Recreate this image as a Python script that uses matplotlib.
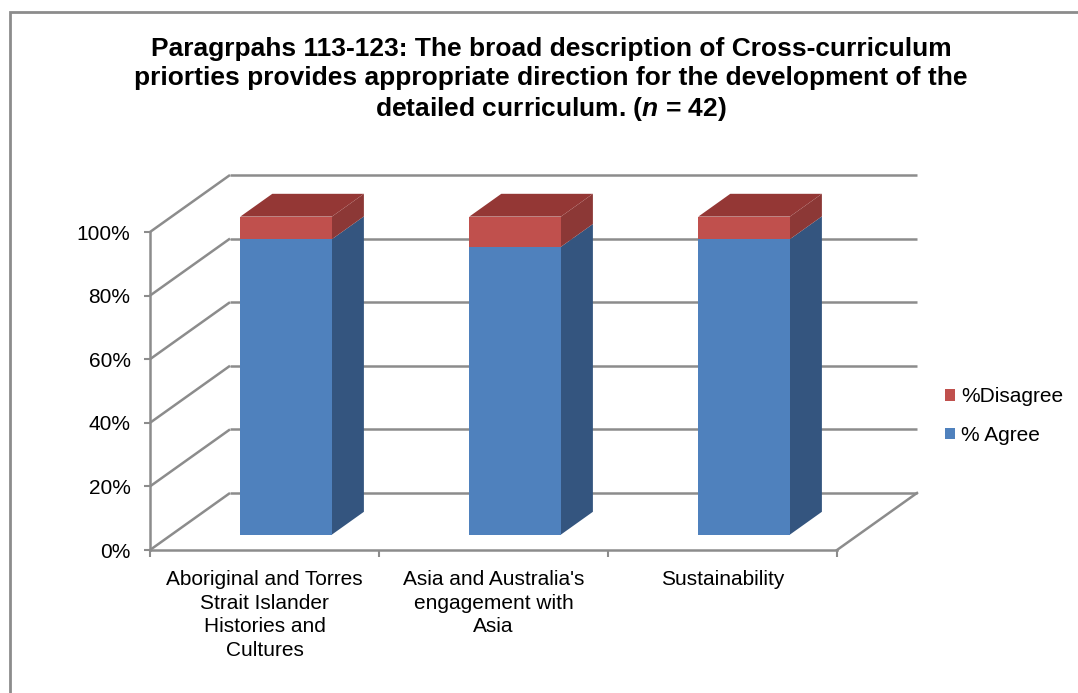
import matplotlib
matplotlib.use("Agg")
import matplotlib.pyplot as plt
from matplotlib.patches import Polygon, Rectangle, Patch

plt.rcParams['font.family'] = ['Liberation Sans', 'DejaVu Sans']
plt.rcParams['mathtext.fontset'] = 'custom'
plt.rcParams['mathtext.bfit'] = 'Liberation Sans:bold:italic'
plt.rcParams['mathtext.it'] = 'Liberation Sans:italic'
plt.rcParams['mathtext.bf'] = 'Liberation Sans:bold'
plt.rcParams['mathtext.rm'] = 'Liberation Sans'

# ---- data ----
categories = ["Aboriginal and Torres\nStrait Islander\nHistories and\nCultures",
              "Asia and Australia's\nengagement with\nAsia",
              "Sustainability"]
agree = [92.9, 90.5, 92.9]
disagree = [7.1, 9.5, 7.1]
series_names = ["% Agree", "%Disagree"]
yticks = [0, 20, 40, 60, 80, 100]
ytick_labels = ["0%", "20%", "40%", "60%", "80%", "100%"]
title = ("Paragrpahs 113-123: The broad description of Cross-curriculum\n"
         "priorties provides appropriate direction for the development of the\n"
         "detailed curriculum. ($\\mathbfit{n}$ = 42)")

# ---- style / geometry ----
W, H = 1078, 693
fig = plt.figure(figsize=(W / 100, H / 100), dpi=100)

PX0, PXU = 150.0, 229.0   # pixel x of data x=-0.5 and px per category
PY0, PYU = 550.0, 3.18    # pixel y of 0% and px per percent
xlim = (-0.6, 2.95)
ylim = (-3, 121)
lpx = PX0 + (xlim[0] + 0.5) * PXU
rpx = PX0 + (xlim[1] + 0.5) * PXU
bpx = PY0 - ylim[0] * PYU
tpx = PY0 - ylim[1] * PYU
ax = fig.add_axes([lpx / W, (H - bpx) / H, (rpx - lpx) / W, (bpx - tpx) / H])
ax.set_xlim(*xlim)
ax.set_ylim(*ylim)

DX = 80.0 / PXU
DY = 57.0 / PYU
grid_c = '#8c8c8c'
glw = 1.8
x0, x1 = -0.5, len(categories) - 0.5
FS = 15

# walls / floor
for t in yticks:
    ax.plot([x0, x0 + DX], [t, t + DY], color=grid_c, lw=glw, zorder=1,
            solid_capstyle='butt')
    ax.plot([x0 + DX, x1 + DX], [t + DY, t + DY], color=grid_c, lw=glw,
            zorder=1, solid_capstyle='butt')
ax.plot([x1, x1 + DX], [0, DY], color=grid_c, lw=glw, zorder=1)

# spines and ticks
for s in ['top', 'right']:
    ax.spines[s].set_visible(False)
ax.spines['left'].set_position(('data', x0))
ax.spines['left'].set_bounds(0, 100)
ax.spines['bottom'].set_position(('data', 0))
ax.spines['bottom'].set_bounds(x0, x1)
for s in ['left', 'bottom']:
    ax.spines[s].set_color(grid_c)
    ax.spines[s].set_linewidth(glw)
    ax.spines[s].set_zorder(2)

ax.set_yticks(yticks)
ax.set_yticklabels(ytick_labels, fontsize=FS)
ax.tick_params(axis='y', direction='out', length=4, width=1.5, color=grid_c, pad=10)
ax.set_xticks(range(len(categories)))
ax.set_xticklabels(categories, fontsize=FS, linespacing=1.3)
ax.set_xticks([x0 + i for i in range(len(categories) + 1)], minor=True)
ax.tick_params(axis='x', which='major', length=0, pad=14.5)
ax.tick_params(axis='x', which='minor', direction='out', length=5, width=1.5, color=grid_c)

# bars (oblique 3D)
hw = 0.2
zf, zb = 0.27, 0.67
front_cols = ['#4F81BD', '#C0504D']
side_cols = ['#34557F', '#8C3836']
top_col = '#943735'
for i in range(len(categories)):
    segs = [(0, agree[i]), (agree[i], agree[i] + disagree[i])]
    for k, (y0, y1) in enumerate(segs):
        fl = i - hw + zf * DX
        fr = i + hw + zf * DX
        br = i + hw + zb * DX
        bl = i - hw + zb * DX
        ax.add_patch(Polygon([(fr, y0 + zf * DY), (br, y0 + zb * DY),
                              (br, y1 + zb * DY), (fr, y1 + zf * DY)],
                             closed=True, fc=side_cols[k], ec='none', zorder=3))
        ax.add_patch(Polygon([(fl, y0 + zf * DY), (fr, y0 + zf * DY),
                              (fr, y1 + zf * DY), (fl, y1 + zf * DY)],
                             closed=True, fc=front_cols[k], ec='none', zorder=4))
        if k == len(segs) - 1:
            ax.add_patch(Polygon([(fl, y1 + zf * DY), (fr, y1 + zf * DY),
                                  (br, y1 + zb * DY), (bl, y1 + zb * DY)],
                                 closed=True, fc=top_col, ec='none', zorder=4))

# legend
handles = [Patch(fc=front_cols[1], ec='none'), Patch(fc=front_cols[0], ec='none')]
fig.legend(handles, [series_names[1], series_names[0]], loc='center left',
           bbox_to_anchor=(926 / W, 1 - 416 / H), frameon=False, fontsize=FS,
           handlelength=0.5, handleheight=0.5, handletextpad=0.3, labelspacing=0.95)

# title
fig.text(551 / W, 1 - 37 / H, title, ha='center', va='top', fontsize=19,
         fontweight='bold', linespacing=1.25)

# outer frame (only top/left visible)
fig.add_artist(Rectangle((10 / W, -0.2), 1.5, 1.2 - 12 / H, transform=fig.transFigure,
                         fill=False, ec='#8c8c8c', lw=2))

fig.savefig('out.png', dpi=100)
